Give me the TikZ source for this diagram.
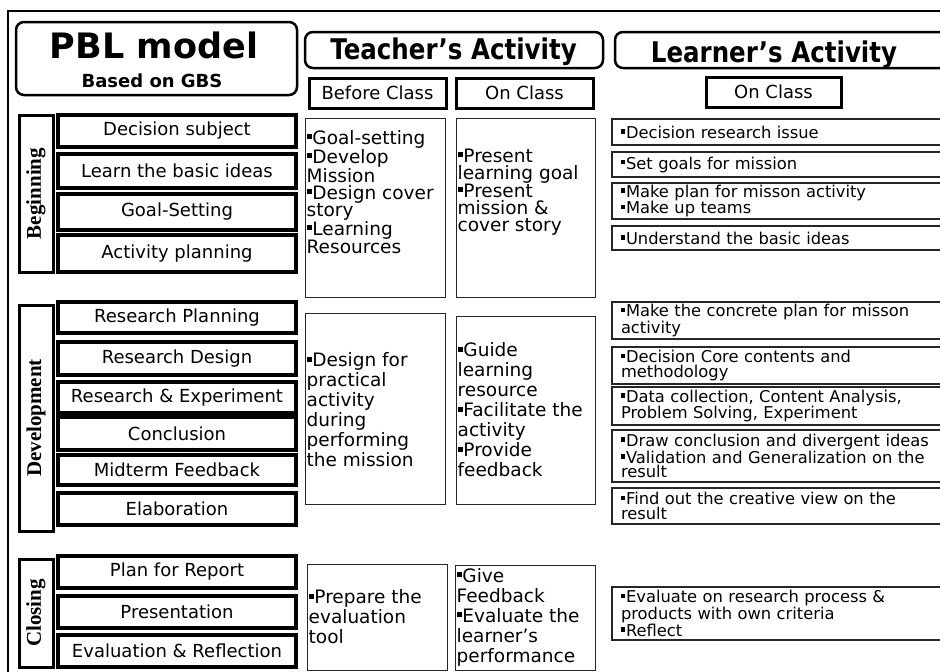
\documentclass[tikz,border=0pt]{standalone}
\usepackage{fontspec}
\setmainfont{DejaVu Sans}
\newfontfamily\headfont{DejaVu Sans}[FakeStretch=0.86]
\newfontfamily\phasefont{Liberation Serif}
\newcommand\sqbullet{\rule[0.28em]{0.27em}{0.27em}\kern0.04em}

\begin{document}
\begin{tikzpicture}[x=1pt, y=-1pt,
    headbox/.style={draw, line width=2.5pt, rounded corners=8pt, inner sep=0pt},
    headtext/.style={anchor=base, inner sep=0pt, font=\headfont\bfseries\fontsize{28.5}{28.5}\selectfont},
    classbox/.style={draw, line width=3pt, inner sep=0pt, minimum height=30pt, font=\fontsize{18}{18}\selectfont},
    phasebox/.style={draw, line width=3pt, inner sep=0pt, rotate=90, minimum height=34pt, font=\phasefont\bfseries\fontsize{21}{21}\selectfont},
    stagebox/.style={draw, line width=3.2pt, inner sep=0pt, minimum width=238pt, font=\fontsize{18}{18}\selectfont},
    teachbox/.style={draw=black!85, line width=1pt, inner sep=0pt},
    teachtext/.style={anchor=west, inner sep=0pt, align=left, font=\fontsize{18.5}{20}\selectfont},
    learnbox/.style={draw=black!85, line width=1.2pt, inner xsep=9pt, inner ysep=0pt, text width=330pt, align=left, font=\fontsize{16.3}{14.5}\selectfont},
  ]
  \clip (0,0) rectangle (940,672);
  % outer frame, runs off the page on the right and at the bottom
  \draw[line width=2pt] (8,11) rectangle (990,700);

  % column heads
  \node[headbox, minimum width=281pt, minimum height=73pt] (pbl) at (156.5,58.5) {};
  \node[anchor=base, inner sep=0pt, font=\bfseries\fontsize{35}{35}\selectfont] (pbltitle) at (154,58) {PBL model};
  \node[anchor=base, inner sep=0pt, font=\bfseries\fontsize{18}{18}\selectfont] (pblsub)   at (152,87) {Based on GBS};
  \node[headbox, minimum width=298pt, minimum height=36pt] (thead) at (454,50) {};
  \node[headtext] (theadtxt) at (453.5,59) {Teacher’s Activity};
  \node[headbox, minimum width=380pt, minimum height=36pt] (lhead) at (805,50) {};
  \node[headtext] (lheadtxt) at (774,62) {Learner’s Activity};

  \node[classbox, minimum width=137pt] (tbefore) at (377.5,93) {Before Class};
  \node[classbox, minimum width=137pt] (ton)     at (524.5,93) {On Class};
  \node[classbox, minimum width=135pt] (lon)     at (773.5,92) {On Class};

  % phases
  \node[phasebox, minimum width=157pt] (beginning)   at (36,193.5) {Beginning};
  \node[phasebox, minimum width=226pt] (development) at (36,418)   {Development};
  \node[phasebox, minimum width=108pt] (closing)     at (36,613)   {Closing};

  % steps of each phase
  \node[stagebox, minimum height=32pt] (s1)  at (177,131)   {Decision subject};
  \node[stagebox, minimum height=34pt] (s2)  at (177,171)   {Learn the basic ideas};
  \node[stagebox, minimum height=36pt] (s3)  at (177,212)   {Goal-Setting};
  \node[stagebox, minimum height=37pt] (s4)  at (177,253.5) {Activity planning};
  \node[stagebox, minimum height=31pt] (s5)  at (177,317.5) {Research Planning};
  \node[stagebox, minimum height=33pt] (s6)  at (177,358.5) {Research Design};
  \node[stagebox, minimum height=31pt] (s7)  at (177,397.5) {Research \& Experiment};
  \node[stagebox, minimum height=33pt] (s8)  at (177,433.5) {Conclusion};
  \node[stagebox, minimum height=30pt] (s9)  at (177,470)   {Midterm Feedback};
  \node[stagebox, minimum height=32pt] (s10) at (177,509)   {Elaboration};
  \node[stagebox, minimum height=32pt] (s11) at (177,572)   {Plan for Report};
  \node[stagebox, minimum height=32pt] (s12) at (177,612)   {Presentation};
  \node[stagebox, minimum height=32pt] (s13) at (177,651)   {Evaluation \& Reflection};

  % teacher's activity
  \node[teachbox, minimum width=140pt, minimum height=179pt] (tb1) at (375,207.5) {};
  \node[teachbox, minimum width=139pt, minimum height=179pt] (to1) at (525.5,207.5) {};
  \node[teachbox, minimum width=140pt, minimum height=191pt] (tb2) at (375,408.5) {};
  \node[teachbox, minimum width=139pt, minimum height=188pt] (to2) at (525.5,410) {};
  \node[teachbox, minimum width=140pt, minimum height=106pt] (tb3) at (377,617) {};
  \node[teachbox, minimum width=140pt, minimum height=105pt] (to3) at (525,617.5) {};

  \node[teachtext, font=\fontsize{18.5}{17}\selectfont] (tb1txt) at ([xshift=2pt,yshift=15.5pt]tb1.west)
    {\sqbullet Goal-setting\\\sqbullet Develop\\Mission\\\sqbullet Design cover\\story\\\sqbullet Learning\\Resources};
  \node[teachtext, font=\fontsize{18.5}{17}\selectfont] (to1txt) at ([xshift=2pt,yshift=15.5pt]to1.west)
    {\sqbullet Present\\learning goal\\\sqbullet Present\\mission \&\\cover story};
  \node[teachtext] (tb2txt) at ([xshift=2pt,yshift=-1.5pt]tb2.west)
    {\sqbullet Design for\\practical\\activity\\during\\performing\\the mission};
  \node[teachtext] (to2txt) at ([xshift=2pt]to2.west)
    {\sqbullet Guide\\learning\\resource\\\sqbullet Facilitate the\\activity\\\sqbullet Provide\\feedback};
  \node[teachtext] (tb3txt) at ([xshift=2pt]tb3.west)
    {\sqbullet Prepare the\\evaluation\\tool};
  \node[teachtext] (to3txt) at ([xshift=2pt]to3.west)
    {\sqbullet Give\\Feedback\\\sqbullet Evaluate the\\learner’s\\performance};

  % learner's activity
  \node[learnbox, minimum height=26pt] (l1)  at (786,132)   {\sqbullet Decision research issue};
  \node[learnbox, minimum height=25pt] (l2)  at (786,164.5) {\sqbullet Set goals for mission};
  \node[learnbox, minimum height=36pt] (l3)  at (786,201)   {\sqbullet Make plan for misson activity\\\sqbullet Make up teams};
  \node[learnbox, minimum height=24pt] (l4)  at (786,238)   {\sqbullet Understand the basic ideas};
  \node[learnbox, minimum height=37pt] (l5)  at (786,320.5) {\sqbullet Make the concrete plan for misson\\activity};
  \node[learnbox, minimum height=37pt] (l6)  at (786,365.5) {\sqbullet Decision Core contents and\\methodology};
  \node[learnbox, minimum height=38pt] (l7)  at (786,406)   {\sqbullet Data collection, Content Analysis,\\Problem Solving, Experiment};
  \node[learnbox, minimum height=52pt] (l8)  at (786,456)   {\sqbullet Draw conclusion and divergent ideas\\\sqbullet Validation and Generalization on the\\result};
  \node[learnbox, minimum height=36pt] (l9)  at (786,506)   {\sqbullet Find out the creative view on the\\result};
  \node[learnbox, minimum height=53pt] (l10) at (786,613.5) {\sqbullet Evaluate on research process \&\\products with own criteria\\\sqbullet Reflect};
\end{tikzpicture}
\end{document}
